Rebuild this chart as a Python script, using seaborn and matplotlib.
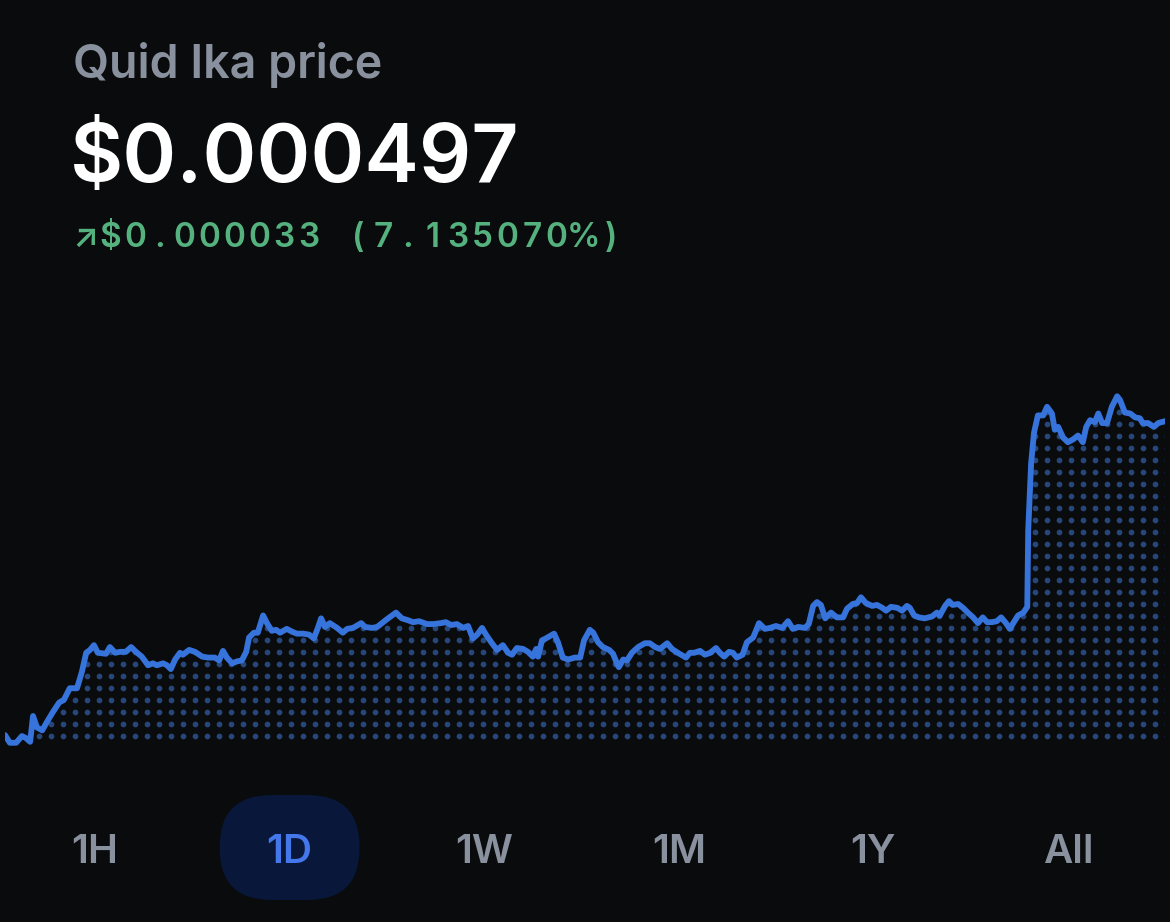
import numpy as np
import pandas as pd
import matplotlib
matplotlib.use('Agg')
import matplotlib.pyplot as plt
import seaborn as sns
from matplotlib.patches import FancyBboxPatch


#=====================
# DATA
#=====================
# hours since start of the 1D window
hours = [
    0.00, 0.10, 0.23, 0.35, 0.43, 0.52, 0.58, 0.66, 0.77, 0.87,
    0.99, 1.12, 1.22, 1.34, 1.49, 1.59, 1.68, 1.76, 1.84, 1.92,
    2.09, 2.17, 2.28, 2.38, 2.50, 2.61, 2.71, 2.83, 2.96, 3.06,
    3.14, 3.27, 3.35, 3.43, 3.52, 3.62, 3.68, 3.81, 3.93, 4.08,
    4.20, 4.34, 4.43, 4.51, 4.59, 4.70, 4.80, 4.90, 4.99, 5.05,
    5.15, 5.23, 5.34, 5.42, 5.52, 5.61, 5.69, 5.83, 5.94, 6.04,
    6.17, 6.29, 6.39, 6.48, 6.54, 6.62, 6.72, 6.87, 6.99, 7.08,
    7.20, 7.37, 7.45, 7.59, 7.70, 7.80, 7.90, 8.09, 8.21, 8.34,
    8.44, 8.57, 8.73, 8.86, 9.02, 9.12, 9.23, 9.35, 9.48, 9.58,
    9.68, 9.77, 9.87, 9.95, 10.06, 10.18, 10.30, 10.41, 10.49, 10.59,
    10.72, 10.82, 10.92, 10.99, 11.03, 11.11, 11.19, 11.36, 11.44, 11.54,
    11.65, 11.79, 11.90, 11.98, 12.10, 12.17, 12.27, 12.37, 12.50, 12.58,
    12.66, 12.70, 12.79, 12.87, 12.97, 13.10, 13.24, 13.34, 13.45, 13.55,
    13.70, 13.80, 13.92, 14.09, 14.17, 14.26, 14.38, 14.48, 14.59, 14.71,
    14.79, 14.88, 14.98, 15.06, 15.14, 15.26, 15.35, 15.48, 15.60, 15.72,
    15.83, 15.95, 16.08, 16.20, 16.30, 16.41, 16.55, 16.63, 16.72, 16.80,
    16.88, 16.97, 17.09, 17.21, 17.34, 17.42, 17.54, 17.63, 17.71, 17.81,
    17.94, 18.04, 18.15, 18.23, 18.33, 18.46, 18.56, 18.66, 18.72, 18.81,
    18.91, 19.03, 19.18, 19.28, 19.34, 19.45, 19.53, 19.61, 19.72, 19.82,
    19.92, 20.03, 20.13, 20.23, 20.32, 20.42, 20.52, 20.61, 20.71, 20.79,
    20.86, 20.96, 21.07, 21.15, 21.17, 21.23, 21.29, 21.37, 21.48, 21.56,
    21.66, 21.72, 21.79, 21.89, 21.99, 22.10, 22.20, 22.30, 22.37, 22.45,
    22.55, 22.62, 22.70, 22.80, 22.90, 23.01, 23.07, 23.17, 23.28, 23.38,
    23.48, 23.54, 23.65, 23.77, 23.86, 24.00,
]

# price in millionths of a dollar
price_micro = [
    464.3, 463.5, 463.5, 464.2, 464.0, 463.6, 466.3, 465.1, 464.8, 465.7,
    466.7, 467.7, 468.0, 469.2, 469.2, 470.9, 472.9, 473.2, 473.7, 472.9,
    472.8, 473.5, 472.9, 473.0, 473.0, 473.5, 473.0, 472.5, 471.6, 471.8,
    471.6, 471.8, 471.6, 471.2, 472.2, 472.9, 472.7, 473.2, 473.0, 472.5,
    472.4, 472.4, 472.1, 473.1, 472.4, 471.8, 472.0, 472.1, 473.0, 474.5,
    475.0, 475.0, 476.8, 476.0, 475.2, 475.3, 475.0, 475.4, 475.1, 474.9,
    474.9, 474.8, 474.4, 475.6, 476.5, 475.6, 476.0, 475.5, 475.0, 475.4,
    475.5, 476.0, 475.6, 475.5, 475.6, 476.0, 476.4, 477.1, 476.5, 476.3,
    476.1, 476.2, 475.9, 475.9, 476.0, 476.1, 475.8, 475.9, 475.5, 475.7,
    474.4, 474.8, 475.5, 474.8, 474.0, 473.2, 473.7, 472.9, 472.7, 473.4,
    473.3, 473.0, 472.5, 473.3, 472.5, 474.2, 474.4, 474.9, 474.0, 472.4,
    472.2, 472.4, 472.4, 474.2, 475.3, 475.0, 474.0, 473.5, 473.2, 472.8,
    471.8, 471.4, 472.2, 472.1, 472.9, 473.5, 473.9, 473.9, 473.5, 473.3,
    473.9, 473.3, 472.9, 472.4, 472.9, 472.9, 473.1, 472.7, 472.9, 473.4,
    472.9, 472.5, 473.0, 472.9, 472.4, 472.7, 474.0, 474.5, 476.0, 475.4,
    475.5, 475.7, 475.5, 476.2, 475.4, 475.6, 475.5, 475.9, 477.8, 478.2,
    477.9, 476.5, 477.1, 476.6, 476.6, 477.5, 478.0, 478.1, 478.7, 478.1,
    477.8, 477.9, 477.6, 477.3, 477.7, 477.6, 477.3, 477.8, 477.6, 476.8,
    476.6, 476.5, 476.7, 477.1, 476.8, 477.8, 478.3, 477.9, 478.0, 477.6,
    477.1, 476.6, 476.0, 476.6, 476.1, 476.1, 476.2, 476.6, 476.0, 475.4,
    476.0, 476.8, 477.1, 477.7, 485.7, 492.7, 495.9, 497.7, 497.7, 498.6,
    497.9, 496.2, 496.5, 495.4, 494.9, 495.2, 495.6, 494.9, 496.5, 497.2,
    497.0, 497.9, 496.9, 496.9, 498.6, 499.7, 499.3, 498.0, 497.9, 497.5,
    497.4, 496.9, 496.9, 496.5, 496.9, 497.1,
]

coin_title = 'Quid Ika price'
last_price = '$0.000497'
change_text = '↗$0.000033 (7.135070%)'
range_labels = ['1H', '1D', '1W', '1M', '1Y', 'All']
active_range = '1D'


#=====================
# STYLE
#=====================
BG = '#0a0b0d'
LINE = '#3674db'
DOT = '#26477a'
GREY = '#8a919e'
GREEN = '#55b27f'
PILL = '#08173a'
ACTIVE = '#4477ea'

sns.set_theme(style='dark', rc={'axes.facecolor': 'none', 'figure.facecolor': BG})
plt.rcParams['font.family'] = ['Inter', 'DejaVu Sans']

W, H = 1170, 922
fig = plt.figure(figsize=(W / 100, H / 100), dpi=100, facecolor=BG)

# overlay axes in pixel units for the header / range buttons
ov = fig.add_axes([0, 0, 1, 1])
ov.set_xlim(0, W)
ov.set_ylim(H, 0)
ov.set_axis_off()

ov.text(73, 78, coin_title, color=GREY, fontsize=33.5, fontweight='semibold',
        ha='left', va='baseline')
ov.text(70, 182, last_price, color='white', fontsize=59, fontweight='semibold',
        ha='left', va='baseline')

# change line uses tabular (fixed pitch) spacing, '%' gets a wider cell
x_cur = 73
for ch in change_text:
    cell = 30.0 if ch == '%' else 24.8
    ov.text(x_cur + cell / 2, 247, ch, color=GREEN, fontsize=24,
            fontweight='semibold', ha='center', va='baseline')
    x_cur += cell

# range selector
centers = np.linspace(95, 1068, len(range_labels))
for lab, cx in zip(range_labels, centers):
    is_active = lab == active_range
    if is_active:
        ov.add_patch(FancyBboxPatch((cx - 70, 795), 140, 105,
                                    boxstyle='round,pad=0,rounding_size=52',
                                    fc=PILL, ec='none'))
    ov.text(cx, 863, lab, color=ACTIVE if is_active else GREY, fontsize=29,
            fontweight='semibold', ha='center', va='baseline')


#=====================
# PRICE CHART
#=====================
ax = fig.add_axes([5 / W, (H - 760) / H, 1160 / W, 380 / H])
y_lo, y_hi = 461.7, 501.4
ax.set_xlim(0, 24)
ax.set_ylim(y_lo, y_hi)

df = pd.DataFrame({'hour': hours, 'price': price_micro})
sns.lineplot(data=df, x='hour', y='price', ax=ax, color=LINE, lw=4.2,
             estimator=None, solid_capstyle='round', solid_joinstyle='round',
             zorder=3)
area = ax.fill_between(df['hour'], df['price'], y_lo, facecolor='none', lw=0)

# dotted fill under the line: 12 px grid, clipped by the area
px = np.arange(3, W, 12.0)
py = np.arange(H - 735.7, H - 380, 12.0)
gx, gy = np.meshgrid(px, py)
pts = ax.transData.inverted().transform(np.column_stack([gx.ravel(), gy.ravel()]))
dots = ax.scatter(pts[:, 0], pts[:, 1], s=17, color=DOT, linewidths=0, zorder=2)
dots.set_clip_path(area.get_paths()[0], area.get_transform())

ax.set_axis_off()

fig.savefig('out.png', dpi=100, facecolor=BG)
